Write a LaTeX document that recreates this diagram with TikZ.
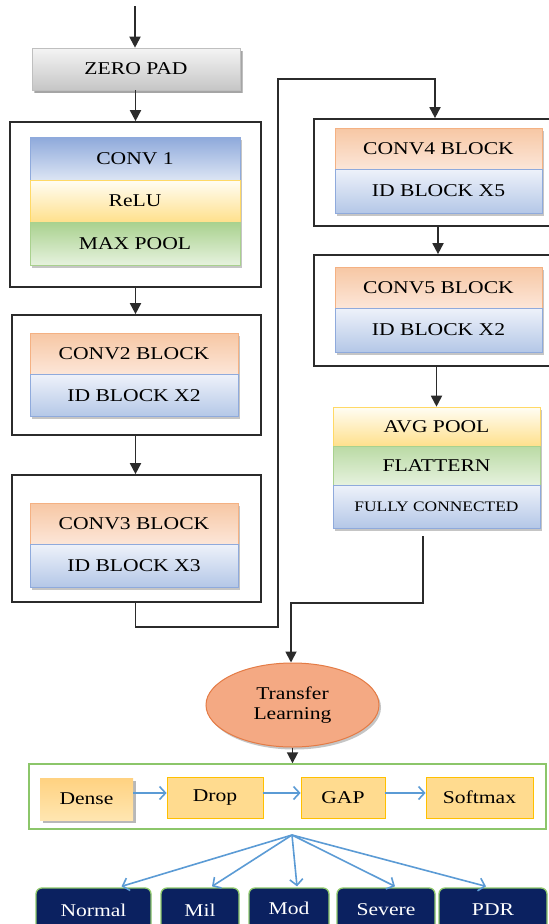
\documentclass[tikz,border=0pt]{standalone}
\usepackage{fontspec}
\setmainfont{Liberation Serif}[FakeStretch=1.2]
\usetikzlibrary{arrows.meta,shapes.geometric,shadows,calc}
\definecolor{orTop}{HTML}{F7C7A4}
\definecolor{orBot}{HTML}{FCE6D8}
\definecolor{orLine}{HTML}{F4B183}
\definecolor{idTop}{HTML}{EEF2FA}
\definecolor{idBot}{HTML}{B4C7E7}
\definecolor{idLine}{HTML}{8FAADC}
\definecolor{c1Top}{HTML}{8EA9DB}
\definecolor{c1Bot}{HTML}{DCE5F4}
\definecolor{yeTop}{HTML}{FFFDF4}
\definecolor{yeBot}{HTML}{FFE08C}
\definecolor{yeLine}{HTML}{FFD966}
\definecolor{grTop}{HTML}{A9D18E}
\definecolor{grBot}{HTML}{E6F2DE}
\definecolor{grLine}{HTML}{A9D18E}
\definecolor{zpTop}{HTML}{F4F4F4}
\definecolor{zpBot}{HTML}{C6C6C6}
\definecolor{lineGray}{HTML}{2B2B2B}
\definecolor{tlFill}{HTML}{F4A983}
\definecolor{tlLine}{HTML}{E47B45}
\definecolor{gfLine}{HTML}{8CC66A}
\definecolor{hdFill}{HTML}{FFDB8F}
\definecolor{hdLine}{HTML}{FFC000}
\definecolor{blueArr}{HTML}{5B9BD5}
\definecolor{navy}{HTML}{0B2160}
\definecolor{navyLine}{HTML}{8DC86B}
\begin{document}
\begin{tikzpicture}[x=1pt,y=-1pt,
  layer/.style={minimum width=208pt, minimum height=42pt, inner sep=0pt,
    font=\fontsize{18}{20}\selectfont, line width=0.6pt,
    drop shadow={shadow xshift=2pt, shadow yshift=-2.5pt, fill=black!45, opacity=0.5}},
  convbox/.style={layer, top color=orTop, bottom color=orBot, draw=orLine},
  idbox/.style={layer, top color=idTop, bottom color=idBot, draw=idLine},
  frame/.style={draw=lineGray, line width=1.7pt, inner sep=0pt, fill=none},
  arr/.style={draw=lineGray, line width=1.8pt, -{Triangle[length=11pt,width=11pt]}},
  hbox/.style={fill=hdFill, draw=hdLine, line width=0.8pt, minimum height=41pt, inner sep=0pt,
    font=\fontsize{18}{20}\selectfont},
  barr/.style={draw=blueArr, line width=1.6pt, -{Straight Barb[length=6pt,width=13pt,line width=1.6pt]}},
  cls/.style={fill=navy, draw=navyLine, line width=1.3pt, rounded corners=6pt, minimum height=44pt,
    inner sep=0pt, text=white, font=\fontsize{18}{20}\selectfont}
]
\useasboundingbox (0,0) rectangle (549,924);
\fill[white] (0,0) rectangle (549,924);
\clip (0,0) rectangle (549,924);

% left column
\coordinate (in) at (135,6);
\node[layer, top color=zpTop, bottom color=zpBot, draw=black!25,
  drop shadow={shadow xshift=3pt, shadow yshift=-3pt, fill=black!45, opacity=0.55}] (zp) at (136,69) {ZERO PAD};

\node[frame, minimum width=251pt, minimum height=165pt] (b1) at (135.5,204.5) {};
\node[layer, minimum width=210pt, minimum height=43pt, top color=c1Top, bottom color=c1Bot, draw=idLine] (conv1) at (135,158.5) {CONV 1};
\node[layer, minimum width=210pt, top color=yeTop, bottom color=yeBot, draw=yeLine] (relu) at (135,201) {ReLU};
\node[layer, minimum width=210pt, minimum height=43pt, top color=grTop, bottom color=grBot, draw=grLine] (maxpool) at (135,243.5) {MAX POOL};

\node[frame, minimum width=249pt, minimum height=120pt] (b2) at (136.5,375) {};
\node[convbox, minimum height=41pt] (conv2) at (134,353.5) {CONV2 BLOCK};
\node[idbox] (id2) at (134,395.5) {ID BLOCK X2};

\node[frame, minimum width=249pt, minimum height=127pt] (b3) at (136.5,538.5) {};
\node[convbox, minimum height=41pt] (conv3) at (134,523.5) {CONV3 BLOCK};
\node[idbox, minimum height=43pt] (id3) at (134,565.5) {ID BLOCK X3};

% right column
\node[frame, minimum width=238pt, minimum height=107pt] (b4) at (433,172.5) {};
\node[convbox, minimum width=207pt, minimum height=41pt] (conv4) at (438.5,148.5) {CONV4 BLOCK};
\node[idbox, minimum width=207pt, minimum height=44pt] (id5) at (438.5,191) {ID BLOCK X5};

\node[frame, minimum width=238pt, minimum height=111pt] (b5) at (433,310.5) {};
\node[convbox, minimum width=207pt, minimum height=41pt] (conv5) at (438.5,287.5) {CONV5 BLOCK};
\node[idbox, minimum width=207pt, minimum height=44pt] (id2b) at (438.5,330) {ID BLOCK X2};

\node[layer, minimum width=207pt, minimum height=39pt, top color=yeTop, bottom color=yeBot, draw=yeLine] (avg) at (436.5,426.5) {AVG POOL};
\node[layer, minimum width=207pt, minimum height=39pt, top color=grTop!80, bottom color=grBot, draw=grLine] (flat) at (436.5,465.5) {FLATTERN};
\node[layer, minimum width=207pt, minimum height=43pt, top color=idTop, bottom color=idBot, draw=idLine,
  font=\fontsize{14.5}{16}\selectfont] (fc) at (436.5,506.5) {FULLY CONNECTED};

% connectors, main column
\draw[arr] (in) -- (in |- zp.north);
\draw[arr] (zp.south -| b1.north) -- (b1.north);
\draw[arr] (b1.south) -- (b1.south |- b2.north);
\draw[arr] (b1.south |- b2.south) -- (b1.south |- b3.north);
\coordinate (c1) at (278,627);
\coordinate (c2) at (435,79);
\draw[arr] (b1.south |- b3.south) -- (b1.south |- c1) -- (c1) -- (c1 |- c2) -- (c2) -- (c2 |- b4.north);
\draw[arr] ($(b4.south)+(5,0)$) -- ($(b5.north)+(5,0)$);
\draw[arr] (b5.south -| avg.north) -- (avg.north);

% transfer learning
\node[ellipse, minimum width=173pt, minimum height=84pt, inner sep=0pt, fill=tlFill, draw=tlLine, line width=1pt,
  align=center, font=\fontsize{18}{20}\selectfont,
  drop shadow={shadow xshift=2pt, shadow yshift=-2.5pt, fill=black!45, opacity=0.5}] (tl) at (292.5,705) {Transfer\\Learning};
\coordinate (fcout) at ($(fc.south)+(-13.5,8)$);
\coordinate (c3) at (291,603);
\draw[arr] (fcout) -- (fcout |- c3) -- (c3) -- (c3 |- tl.north);

% head
\node[draw=gfLine, line width=1.4pt, minimum width=517pt, minimum height=65pt, inner sep=0pt] (gf) at (287.5,796.5) {};
\draw[arr] (tl.south) -- (tl.south |- gf.north);
\node[hbox, draw=none, minimum width=93pt, minimum height=42pt, top color=hdFill!90!orange, bottom color=hdFill!70,
  drop shadow={shadow xshift=2.5pt, shadow yshift=-3pt, fill=black!55, opacity=0.5}] (dense) at (86.5,799) {Dense};
\node[hbox, minimum width=96pt] (drop) at (215,797.5) {Drop};
\node[hbox, minimum width=84pt] (gap) at (343,797.5) {GAP};
\node[hbox, minimum width=107pt] (soft) at (479.5,797.5) {Softmax};
\draw[barr] ([yshift=6pt]dense.east) -- ([yshift=4.5pt]drop.west);
\draw[barr] ([yshift=4.5pt]drop.east) -- ([yshift=4.5pt]gap.west);
\draw[barr] ([yshift=4.5pt]gap.east) -- ([yshift=4.5pt]soft.west);

% classes
\node[cls, minimum width=115pt] (normal) at (93.5,910) {Normal};
\node[cls, minimum width=78pt] (mil) at (200,910) {Mil};
\node[cls, minimum width=80pt] (mod) at (289,910) {\raisebox{3pt}{Mod}};
\node[cls, minimum width=98pt] (severe) at (386,910) {Severe};
\node[cls, minimum width=108pt] (pdr) at (493,910) {PDR};
\coordinate (fan) at (292,835);
\draw[barr] (fan) -- ($(normal.north)+(28,-1)$);
\draw[barr] (fan) -- ($(mil.north)+(12,-1)$);
\draw[barr] (fan) -- ($(mod.north)+(8,-1)$);
\draw[barr] (fan) -- ($(severe.north)+(9,-1)$);
\draw[barr] (fan) -- ($(pdr.north)+(-7,-1)$);
\end{tikzpicture}
\end{document}
